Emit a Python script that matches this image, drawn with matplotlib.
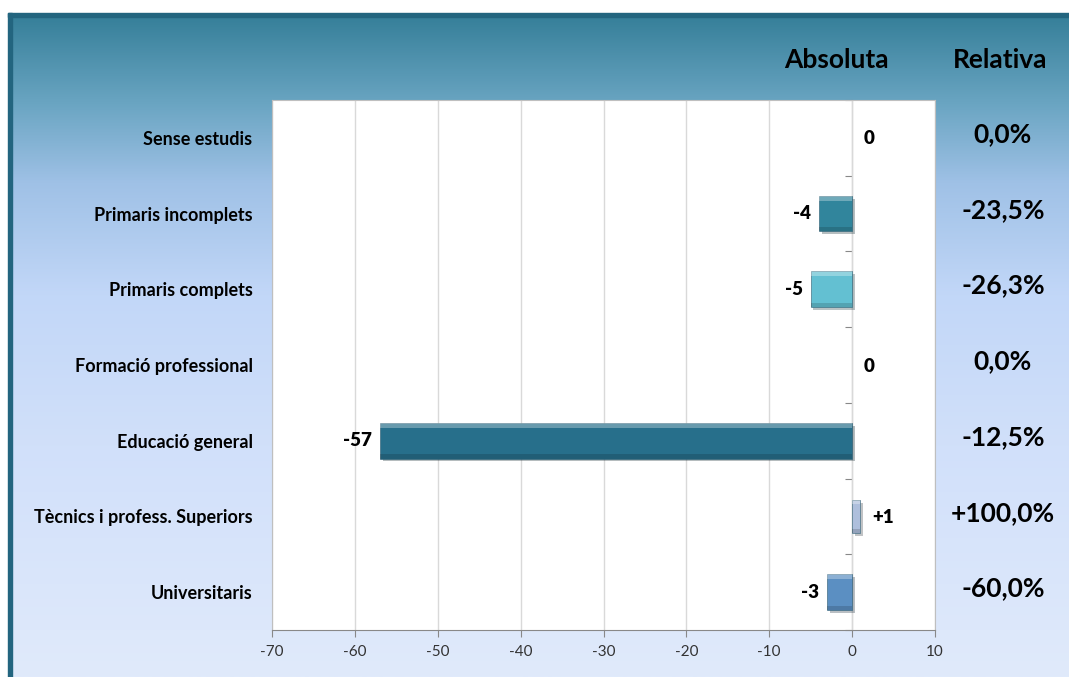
import matplotlib
matplotlib.use('Agg')
import matplotlib.pyplot as plt
import matplotlib.patheffects as pe
import matplotlib.transforms as mtrans
from matplotlib.colors import LinearSegmentedColormap
from matplotlib.patches import Rectangle
import numpy as np

plt.rcParams['font.family'] = ['Lato', 'DejaVu Sans']

categories = ['Sense estudis', 'Primaris incomplets', 'Primaris complets',
              'Formació professional', 'Educació general',
              'Tècnics i profess. Superiors', 'Universitaris']
absoluta = [0, -4, -5, 0, -57, 1, -3]
relativa = ['0,0%', '-23,5%', '-26,3%', '0,0%', '-12,5%', '+100,0%', '-60,0%']
bar_colors = ['#31859c', '#31859c', '#63c0d2', '#31859c', '#276f8b', '#aebfdc', '#5b8fc2']
xticks = [-70, -60, -50, -40, -30, -20, -10, 0, 10]

W, H = 1069, 677
fig = plt.figure(figsize=(W / 100, H / 100), dpi=100)
fig.patch.set_facecolor('white')

# background gradient panel with dark frame on top/left
bg = fig.add_axes([0, 0, 1, 1])
bg.set_xlim(0, W)
bg.set_ylim(H, 0)
bg.axis('off')
grad = LinearSegmentedColormap.from_list('bg', [
    (0.0, '#37809a'), (0.13, '#6aa5c2'), (0.25, '#9fc1e6'),
    (0.42, '#c2d7f8'), (0.65, '#d1e0fa'), (1.0, '#e0eafb')])
g = np.linspace(0, 1, 256).reshape(-1, 1)
bg.imshow(g, cmap=grad, aspect='auto', extent=[12, W, H, 17], zorder=0)
bg.add_patch(Rectangle((8, 13), W - 8, 4, color='#23657f', zorder=1))
bg.add_patch(Rectangle((8, 13), 4, H - 13, color='#23657f', zorder=1))

# plot area
ax = fig.add_axes([272 / W, 1 - 630 / H, (935 - 272) / W, (630 - 100) / H])
ax.set_facecolor('white')
y = np.arange(len(categories))
shadow = [pe.SimplePatchShadow(offset=(2, -2), alpha=0.3), pe.Normal()]
for i, v in enumerate(absoluta):
    if v == 0:
        continue
    w = 0.44 if v > 0 else 0.47
    b = ax.barh(y[i], v, height=w, color=bar_colors[i],
                edgecolor='#2a5a6e', linewidth=0.4, zorder=3)
    b[0].set_path_effects(shadow)
    # bevel: light top strip, dark bottom strip
    ax.barh(y[i] - w / 2 + w * 0.07, v, height=w * 0.14, color='white',
            alpha=0.3, linewidth=0, zorder=4)
    ax.barh(y[i] + w / 2 - w * 0.06, v, height=w * 0.12, color='black',
            alpha=0.15, linewidth=0, zorder=4)

left_off = mtrans.offset_copy(ax.transData, fig=fig, x=-8, y=0, units='dots')
right_off = mtrans.offset_copy(ax.transData, fig=fig, x=12, y=-1, units='dots')
for i, v in enumerate(absoluta):
    if v < 0:
        ax.text(v, y[i], str(v), transform=left_off, ha='right', va='center',
                fontsize=13.5, weight='heavy')
    else:
        lbl = '+%d' % v if v > 0 else '0'
        ax.text(v, y[i], lbl, transform=right_off, ha='left', va='center',
                fontsize=13.5, weight='heavy')

ax.set_xlim(-70, 10)
ax.set_ylim(len(categories) - 0.5, -0.5)
ax.set_xticks(xticks)
ax.set_xticklabels([str(t) for t in xticks], fontsize=11, color='#333333')
ax.tick_params(axis='x', length=5, color='#888888', pad=6)
ax.grid(axis='x', color='#d9d9d9', linewidth=1, zorder=0)
ax.set_yticks(y)
ax.set_yticklabels(categories, fontsize=13, fontweight='bold')
ax.tick_params(axis='y', length=0, pad=14)
for s in ax.spines.values():
    s.set_color('#bfbfbf')
ax.spines['bottom'].set_color('#888888')

# zero axis with category separators
zax = ax.secondary_yaxis(70 / 80)
zax.set_yticks(np.arange(len(categories) + 1) - 0.5)
zax.set_yticklabels([])
zax.tick_params(length=5, color='#888888', direction='in')
zax.spines['left'].set_color('#888888')
zax.spines['right'].set_color('#888888')

# column headers and relative values
ax.text(836, 60, 'Absoluta', transform=bg.transData, ha='center', va='center',
        fontsize=19, fontweight='bold')
ax.text(1000, 60, 'Relativa', transform=bg.transData, ha='center', va='center',
        fontsize=19, fontweight='bold')
tr = mtrans.blended_transform_factory(bg.transData, ax.transData)
for i, r in enumerate(relativa):
    ax.text(1003, y[i] - 0.05, r, transform=tr, ha='center', va='center',
            fontsize=19, fontweight='bold', clip_on=False)

fig.savefig('out.png', dpi=100)
